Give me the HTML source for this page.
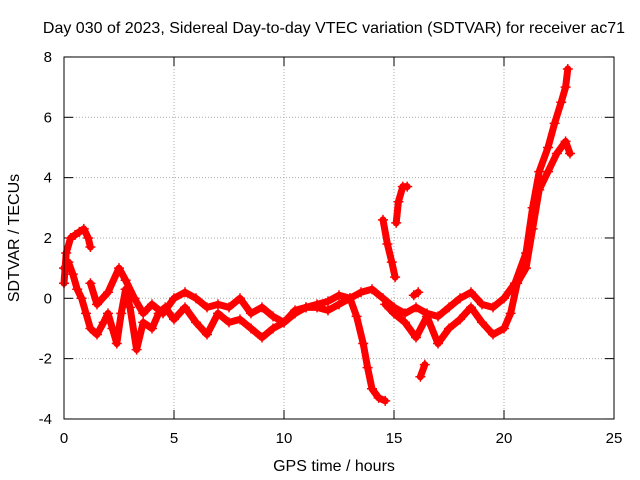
<!DOCTYPE html>
<html><head><meta charset="utf-8"><style>
body{margin:0;background:#fff;}
svg{display:block;font-family:"Liberation Sans",sans-serif;}
</style></head><body>
<svg id="chart" width="640" height="480" xmlns="http://www.w3.org/2000/svg">
<rect x="0" y="0" width="640" height="480" fill="#fff"/>
<text x="334" y="33" font-size="16" text-anchor="middle">Day 030 of 2023, Sidereal Day-to-day VTEC variation (SDTVAR) for receiver ac71</text>
<text x="334" y="471" font-size="16" text-anchor="middle">GPS time / hours</text>
<text x="19" y="238" font-size="16" text-anchor="middle" transform="rotate(-90 19 238)">SDTVAR / TECUs</text>
<g id="grid"></g><g id="ticks"></g><g id="series"></g>
<rect x="64" y="57" width="550" height="362" fill="none" stroke="#000" stroke-width="1"/>
</svg>
<script>
const xTicks=[0,5,10,15,20,25];
const yTicks=[-4,-2,0,2,4,6,8];
const trackLowerT=[0,0.2,0.4,0.6,0.8,1.0,1.2,1.5,1.8,2.0,2.2,2.4,2.6,2.8,3.0,3.3,3.6,4.0,4.3,4.6,5.0,5.5,6.0,6.5,7.0,7.5,8.0,8.5,9.0,9.5,10,10.5,11,11.5,12,12.5,13,13.3,13.6,13.8,14,14.3,14.6];
const trackLowerV=[1.0,1.2,0.8,0.3,0,-0.5,-1.0,-1.2,-0.8,-0.5,-1.0,-1.5,-0.5,0.3,-0.3,-1.7,-0.8,-1.0,-0.5,-0.3,-0.7,-0.3,-0.8,-1.2,-0.5,-0.8,-0.7,-1.0,-1.3,-1.0,-0.8,-0.5,-0.3,-0.3,-0.4,-0.2,0,-0.6,-1.5,-2.3,-3.0,-3.3,-3.4];
const trackUpperT=[0,0.1,0.3,0.5,0.7,0.9,1.1,1.2];
const trackUpperV=[0.5,1.5,2.0,2.1,2.2,2.3,2.0,1.7];
const trackMidT=[1.2,1.5,2.0,2.5,2.8,3.2,3.6,4.0,4.5,5,5.5,6,6.5,7,7.5,8,8.5,9,9.5,10,10.5,11,11.5,12,12.5,13,13.5,14,14.5,15,15.5,16,16.5,17,17.5,18,18.5,19,19.5,20,20.5,21,21.3,21.6,22,22.3,22.6,22.8,22.9];
const trackMidV=[0.5,-0.2,0.2,1.0,0.6,0,-0.5,-0.2,-0.5,0,0.2,0,-0.3,-0.2,-0.3,0,-0.5,-0.3,-0.6,-0.8,-0.4,-0.3,-0.2,-0.1,0.1,0,0.2,0.3,0,-0.3,-0.5,-0.3,-0.5,-0.6,-0.3,0,0.2,-0.2,-0.3,0,0.5,1.5,3,4.2,5,5.8,6.5,7.0,7.6];
const trackTailT=[14.6,15,15.5,16,16.5,17,17.5,18,18.5,19,19.5,20,20.3,20.6,21,21.3,21.6,22,22.4,22.8,23];
const trackTailV=[-0.2,-0.5,-0.8,-1.3,-0.6,-1.5,-1.0,-0.7,-0.3,-0.8,-1.2,-1.0,-0.5,0.5,1.0,2.3,3.6,4.2,4.8,5.2,4.8];
const fragAT=[14.5,14.7,14.9,15.05];
const fragAV=[2.6,1.8,1.2,0.7];
const fragBT=[15.1,15.2,15.4,15.6];
const fragBV=[2.5,3.2,3.7,3.7];
const fragCT=[16.2,16.4];
const fragCV=[-2.6,-2.2];
const fragDT=[15.9,16.1];
const fragDV=[0.1,0.2];

const NS="http://www.w3.org/2000/svg";
const X=t=>64+t*(550/25);
const Y=v=>298.3-v*(362/12);
function mk(tag,attrs,parent){const e=document.createElementNS(NS,tag);for(const k in attrs)e.setAttribute(k,attrs[k]);parent.appendChild(e);return e;}
const grid=document.getElementById('grid'),ticks=document.getElementById('ticks'),series=document.getElementById('series');
xTicks.forEach(t=>{
  const x=X(t);
  if(t>0&&t<25){const g=mk('line',{x1:x,x2:x,y1:57,y2:419,stroke:'#aaa','stroke-dasharray':'1,2'},grid);
  
  }
  mk('line',{x1:x,x2:x,y1:419,y2:410,stroke:'#000'},ticks);
  mk('line',{x1:x,x2:x,y1:57,y2:66,stroke:'#000'},ticks);
  const l=mk('text',{x:x,y:443,'font-size':15,'text-anchor':'middle'},ticks);l.textContent=t;
  
  
});
yTicks.forEach(v=>{
  const y=Y(v);
  if(v>-4&&v<8){const g=mk('line',{x1:64,x2:614,y1:y,y2:y,stroke:'#aaa','stroke-dasharray':'1,2'},grid);
  
  }
  mk('line',{x1:64,x2:73,y1:y,y2:y,stroke:'#000'},ticks);
  mk('line',{x1:605,x2:614,y1:y,y2:y,stroke:'#000'},ticks);
  const l=mk('text',{x:52,y:y+5,'font-size':15,'text-anchor':'end'},ticks);l.textContent=v;
  
  
});
const tracks=[[trackLowerT,trackLowerV],[trackUpperT,trackUpperV],[trackMidT,trackMidV],[trackTailT,trackTailV],[fragAT,fragAV],[fragBT,fragBV],[fragCT,fragCV],[fragDT,fragDV]];
tracks.forEach(([T,V])=>{
  const g=mk('g',{},series);
  
  
  const pts=T.map((t,i)=>X(t)+','+Y(V[i])).join(' ');
  mk('polyline',{points:pts,fill:'none',stroke:'#f00','stroke-width':7,'stroke-linejoin':'round','stroke-linecap':'round'},g);
  T.forEach((t,i)=>{
    const x=X(t),y=Y(V[i]);
    const p=mk('path',{d:`M${x-5},${y}H${x+5}M${x},${y-5}V${y+5}`,stroke:'#f00','stroke-width':1.5},g);
    
    
  });
});
</script>
</body></html>
